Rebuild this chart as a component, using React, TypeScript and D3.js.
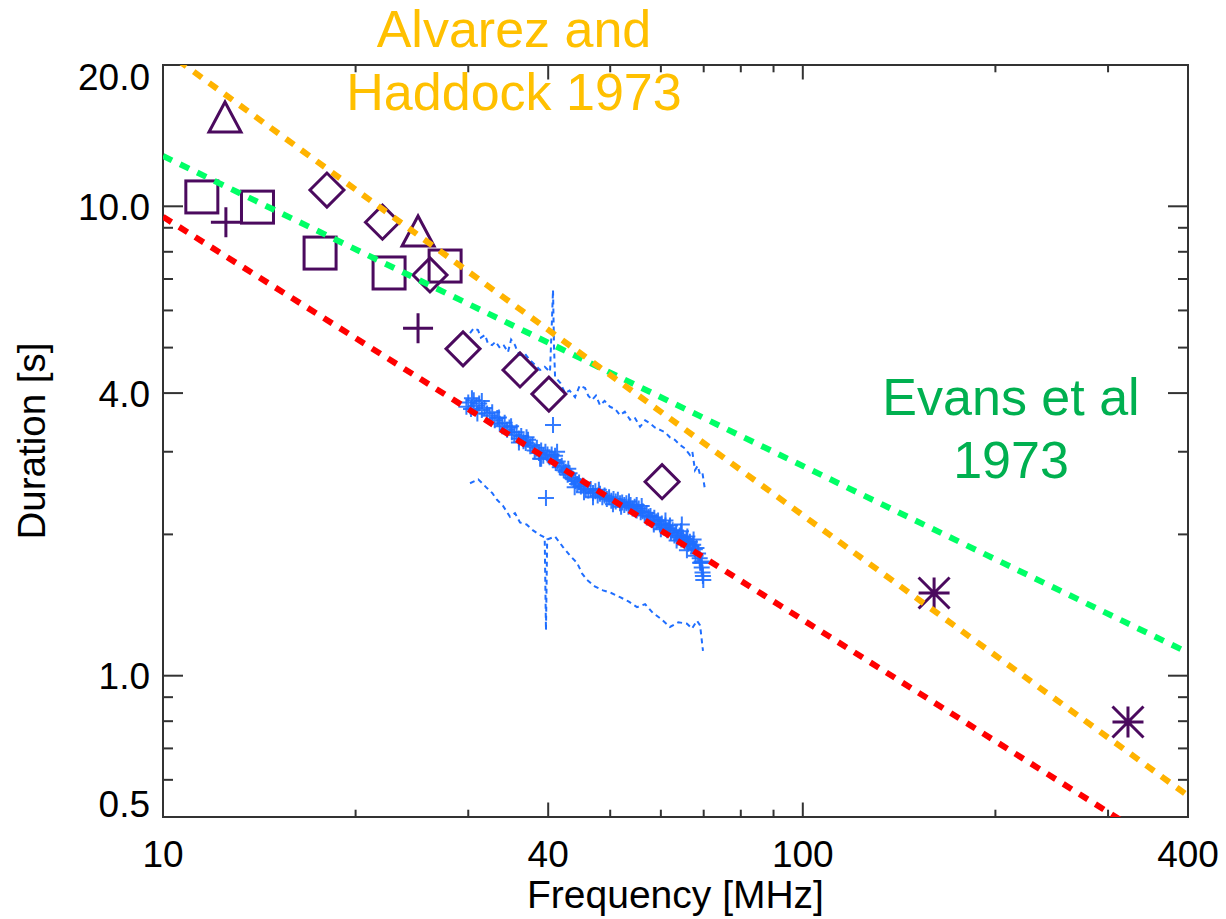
import React from "react";
import * as d3 from "d3";

// ---- Data -------------------------------------------------------------
// Fitted power-law relations (frequency MHz, duration s) at the ends of the range
const alvarezFit: [number, number][] = [[10, 21.6], [400, 0.555]];
const evansFit: [number, number][] = [[10, 12.8], [400, 1.12]];
const thisWorkFit: [number, number][] = [[10, 9.5], [400, 0.4]];

// Earlier measurements, grouped by marker symbol
const squarePts: [number, number][] = [[11.5, 10.47], [14.05, 9.96], [17.6, 7.95], [22.56, 7.21], [27.6, 7.46]];
const trianglePts: [number, number][] = [[12.5, 15.5], [25.04, 8.86]];
const plusPts: [number, number][] = [[12.54, 9.25], [25.04, 5.5]];
const diamondPts: [number, number][] = [[18.04, 10.83], [22.03, 9.25], [26.14, 7.14], [29.44, 4.97], [36.14, 4.48], [40.1, 3.98], [60.26, 2.59]];
const asteriskPts: [number, number][] = [[160.4, 1.5], [322.3, 0.797]];

// LOFAR-band measured durations
const bandPts: [number, number][] = [
  [29.8, 3.74], [30.0, 3.82], [30.3, 3.70], [30.6, 3.86], [30.9, 3.76], [31.2, 3.80], [31.5, 3.68], [31.8, 3.72],
  [32.1, 3.62], [32.4, 3.58], [32.7, 3.64], [33.0, 3.50], [33.3, 3.54], [33.6, 3.44], [33.9, 3.40], [34.2, 3.46],
  [34.5, 3.34], [34.8, 3.38], [35.1, 3.30], [35.4, 3.26], [35.7, 3.30], [36.0, 3.20], [36.3, 3.24], [36.6, 3.16],
  [36.9, 3.13], [37.2, 3.18], [37.5, 3.08], [37.8, 3.10], [38.1, 3.02], [38.4, 3.06], [38.7, 2.98], [39.0, 3.02],
  [39.3, 2.94], [39.6, 3.00], [39.9, 2.96], [40.2, 2.92], [40.5, 2.96], [40.8, 2.88], [41.1, 2.84], [41.4, 2.86],
  [41.7, 2.78], [42.0, 2.80], [42.3, 2.74], [42.6, 2.72], [42.9, 2.68], [43.2, 2.70], [43.5, 2.64], [43.8, 2.62],
  [44.1, 2.60], [44.4, 2.56], [44.7, 2.58], [45.0, 2.53], [45.4, 2.54], [45.8, 2.50], [46.2, 2.48], [46.6, 2.50],
  [47.0, 2.45], [47.4, 2.47], [47.8, 2.42], [48.2, 2.44], [48.6, 2.40], [49.0, 2.42], [49.4, 2.38], [49.8, 2.40],
  [50.2, 2.36], [50.6, 2.38], [51.0, 2.35], [51.4, 2.37], [51.8, 2.33], [52.2, 2.34], [52.6, 2.31], [53.0, 2.33],
  [53.4, 2.29], [53.8, 2.31], [54.2, 2.27], [54.6, 2.29], [55.0, 2.25], [55.4, 2.27], [55.8, 2.23], [56.2, 2.24],
  [56.6, 2.20], [57.0, 2.22], [57.4, 2.18], [57.8, 2.19], [58.2, 2.15], [58.6, 2.17], [59.0, 2.13], [59.4, 2.14],
  [59.8, 2.10], [60.2, 2.11], [60.6, 2.07], [61.0, 2.09], [61.4, 2.04], [61.8, 2.06], [62.2, 2.02], [62.6, 2.04],
  [63.0, 1.99], [63.4, 2.01], [63.8, 1.97], [64.2, 1.99], [64.6, 1.95], [65.0, 1.97], [65.4, 1.93], [65.8, 1.95],
  [66.2, 1.91], [66.6, 1.93], [67.0, 1.89], [67.4, 1.90], [67.8, 1.86], [68.2, 1.87], [68.6, 1.82], [69.0, 1.78],
  [69.3, 1.74], [69.5, 1.70], [69.7, 1.66], [69.8, 1.63],
  [41.3, 3.0], [38.85, 2.9], [64.7, 2.1], [69.1, 1.74], [65.9, 1.85], [30.4, 3.9], [31.0, 3.62],
  [33.5, 3.55], [35.0, 3.40], [37.0, 3.22], [39.0, 2.90], [43.0, 2.76], [45.5, 2.46], [48.0, 2.49],
  [50.5, 2.32], [53.5, 2.35], [56.0, 2.30], [58.5, 2.10], [61.0, 2.14], [63.5, 1.94], [66.0, 1.98],
  [68.0, 1.80], [31.5, 3.85], [36.0, 3.14], [41.0, 2.94], [44.0, 2.52], [47.0, 2.40], [52.0, 2.29],
  [55.0, 2.31], [60.0, 2.05], [62.0, 2.09], [64.5, 2.03], [67.5, 1.95], [69.5, 1.75], [69.9, 1.60],
  [40.7, 3.42], [39.68, 2.39],
];

// Upper and lower envelope of the measured durations
const upperEnv: [number, number][] = [
  [30.19, 5.37], [30.6, 5.5], [31.07, 5.45], [31.4, 5.25], [31.87, 5.32], [32.2, 5.1], [32.68, 5.06],
  [33.1, 5.15], [33.63, 4.99], [34.1, 5.05], [34.61, 4.89], [35.0, 5.2], [35.5, 5.06], [35.8, 4.9],
  [36.14, 4.82], [36.8, 4.85], [37.47, 4.7], [38.1, 4.6], [38.84, 4.48], [39.5, 4.55], [40.26, 4.44],
  [40.5, 5.5], [40.7, 6.63], [40.85, 5.0], [41.0, 4.33], [41.8, 4.2], [42.5, 4.0], [43.2, 4.05],
  [44.06, 3.92], [44.8, 4.15], [45.67, 4.1], [46.2, 3.95], [46.83, 3.87], [47.5, 3.95], [48.2, 3.77],
  [49.0, 3.85], [49.97, 3.74], [50.9, 3.7], [51.8, 3.59], [52.7, 3.65], [53.7, 3.51], [54.6, 3.55],
  [55.67, 3.39], [56.7, 3.5], [57.7, 3.45], [58.7, 3.38], [59.82, 3.34], [60.9, 3.3], [61.99, 3.22],
  [63.1, 3.18], [64.3, 3.1], [65.4, 3.05], [66.63, 2.95], [67.2, 3.0], [67.84, 2.74], [68.5, 2.8],
  [69.08, 2.68], [69.7, 2.7], [70.32, 2.49],
];
const lowerEnv: [number, number][] = [
  [30.19, 2.57], [31.1, 2.62], [32.09, 2.51], [32.7, 2.45], [33.27, 2.37], [34.0, 2.3], [34.86, 2.18],
  [35.5, 2.22], [36.14, 2.12], [37.0, 2.1], [37.88, 2.04], [38.7, 2.0], [39.5, 1.97], [39.68, 1.25],
  [39.85, 1.95], [41.0, 1.98], [42.19, 1.88], [43.3, 1.8], [44.37, 1.74], [45.2, 1.65], [46.0, 1.6],
  [47.3, 1.55], [48.72, 1.52], [50.2, 1.5], [51.8, 1.47], [53.4, 1.44], [55.07, 1.4], [56.7, 1.42],
  [58.33, 1.36], [60.1, 1.32], [61.99, 1.27], [63.9, 1.3], [65.92, 1.29], [67.1, 1.26], [68.33, 1.31],
  [69.1, 1.28], [69.82, 1.13],
];

// Axis ticks
const xMajor = [10, 40, 100, 400];
const xMinor = [20, 30, 50, 60, 70, 80, 90, 200, 300];
const yMajor = [0.5, 1, 4, 10, 20];
const yMajorLabels = ["0.5", "1.0", "4.0", "10.0", "20.0"];
const yMinor = [0.6, 0.7, 0.8, 0.9, 2, 3, 5, 6, 7, 8, 9];

// ---- Layout -----------------------------------------------------------
const W = 1226;
const H = 919;
const L = 163, R = 1188, T = 65, B = 817;
const FONT = "'Liberation Sans', Arial, Helvetica, sans-serif";
const PURPLE = "#4b0a5e";
const BLUE = "#1f6eff";

export default function App() {
  const x = d3.scaleLog().domain([10, 400]).range([L, R]);
  const y = d3.scaleLog().domain([0.5, 20]).range([B, T]);
  const line = d3.line<[number, number]>().x((d) => x(d[0])).y((d) => y(d[1]));

  const fitStyle = { fill: "none", strokeWidth: 6, strokeDasharray: "10 9" } as const;

  const sq = 16, dm = 17, tri = 16, pl = 15, ast = 15.5;

  return (
    <svg width={W} height={H} style={{ position: "absolute", left: 0, top: 0, background: "#fff" }} fontFamily={FONT}>
      <defs>
        <clipPath id="plotClip">
          <rect x={L} y={T} width={R - L} height={B - T} />
        </clipPath>
      </defs>

      {/* frame */}
      <rect x={L} y={T} width={R - L} height={B - T} fill="none" stroke="#333" strokeWidth={2} />

      {/* x ticks, bottom and top */}
      {xMajor.map((v) => (
        <g key={"xM" + v} stroke="#333" strokeWidth={2}>
          <line x1={x(v)} x2={x(v)} y1={B} y2={B - 14.5} />
          <line x1={x(v)} x2={x(v)} y1={T} y2={T + 14.5} />
        </g>
      ))}
      {xMinor.map((v) => (
        <g key={"xm" + v} stroke="#333" strokeWidth={2}>
          <line x1={x(v)} x2={x(v)} y1={B} y2={B - 7.3} />
          <line x1={x(v)} x2={x(v)} y1={T} y2={T + 7.3} />
        </g>
      ))}
      {/* y ticks, left and right */}
      {yMajor.map((v) => (
        <g key={"yM" + v} stroke="#333" strokeWidth={2}>
          <line x1={L} x2={L + 20} y1={y(v)} y2={y(v)} />
          <line x1={R} x2={R - 20} y1={y(v)} y2={y(v)} />
        </g>
      ))}
      {yMinor.map((v) => (
        <g key={"ym" + v} stroke="#333" strokeWidth={2}>
          <line x1={L} x2={L + 10} y1={y(v)} y2={y(v)} />
          <line x1={R} x2={R - 10} y1={y(v)} y2={y(v)} />
        </g>
      ))}

      {/* tick labels */}
      {xMajor.map((v) => (
        <text key={"xl" + v} x={x(v)} y={867} textAnchor="middle" fontSize={37} fill="#000">
          {v}
        </text>
      ))}
      {yMajor.map((v, i) => {
        let by = y(v) + 13.5;
        if (v === 20) by = 90;
        if (v === 0.5) by = B;
        return (
          <text key={"yl" + v} x={150} y={by} textAnchor="end" fontSize={37} fill="#000">
            {yMajorLabels[i]}
          </text>
        );
      })}

      {/* axis titles */}
      <text x={(L + R) / 2} y={908} textAnchor="middle" fontSize={39} fill="#000">
        Frequency [MHz]
      </text>
      <text transform={`translate(45,${(T + B) / 2}) rotate(-90)`} textAnchor="middle" fontSize={38.5} fill="#000">
        Duration [s]
      </text>

      <g clipPath="url(#plotClip)">
        {/* envelopes */}
        <path d={line(upperEnv) || ""} fill="none" stroke={BLUE} strokeWidth={2} strokeDasharray="5 4" />
        <path d={line(lowerEnv) || ""} fill="none" stroke={BLUE} strokeWidth={2} strokeDasharray="5 4" />

        {/* measured durations */}
        {bandPts.map((d, i) => {
          const cx = x(d[0]), cy = y(d[1]);
          return (
            <path key={"b" + i} d={`M${cx - 8},${cy}H${cx + 8}M${cx},${cy - 8}V${cy + 8}`}
              stroke={BLUE} strokeWidth={2} opacity={0.9} />
          );
        })}

        {/* earlier measurements */}
        <g fill="none" stroke={PURPLE} strokeWidth={3}>
          {squarePts.map((d, i) => (
            <rect key={"s" + i} x={x(d[0]) - sq} y={y(d[1]) - sq} width={2 * sq} height={2 * sq} />
          ))}
          {trianglePts.map((d, i) => {
            const cx = x(d[0]), cy = y(d[1]);
            return <path key={"t" + i} d={`M${cx - tri},${cy + 15}L${cx},${cy - 15}L${cx + tri},${cy + 15}Z`} />;
          })}
          {plusPts.map((d, i) => {
            const cx = x(d[0]), cy = y(d[1]);
            return <path key={"p" + i} d={`M${cx - pl},${cy}H${cx + pl}M${cx},${cy - pl}V${cy + pl}`} />;
          })}
          {diamondPts.map((d, i) => {
            const cx = x(d[0]), cy = y(d[1]);
            return <path key={"d" + i} d={`M${cx - dm},${cy}L${cx},${cy - dm}L${cx + dm},${cy}L${cx},${cy + dm}Z`} />;
          })}
          {asteriskPts.map((d, i) => {
            const cx = x(d[0]), cy = y(d[1]);
            const a = ast;
            return (
              <path key={"a" + i}
                d={`M${cx - a},${cy}H${cx + a}M${cx},${cy - a}V${cy + a}M${cx - a},${cy - a}L${cx + a},${cy + a}M${cx - a},${cy + a}L${cx + a},${cy - a}`} />
            );
          })}
        </g>

        {/* fitted relations */}
        <path d={line(evansFit) || ""} stroke="#00ff66" {...fitStyle} />
        <path d={line(alvarezFit) || ""} stroke="#ffb300" {...fitStyle} />
        <path d={line(thisWorkFit) || ""} stroke="#ff0000" {...fitStyle} />
      </g>

      {/* annotations */}
      <g fontSize={52} textAnchor="middle" fill="#ffc000">
        <text x={514} y={47}>Alvarez and</text>
        <text x={514} y={110}>Haddock 1973</text>
      </g>
      <g fontSize={52} textAnchor="middle" fill="#00b050">
        <text x={1011} y={415}>Evans et al</text>
        <text x={1011} y={478}>1973</text>
      </g>
    </svg>
  );
}
